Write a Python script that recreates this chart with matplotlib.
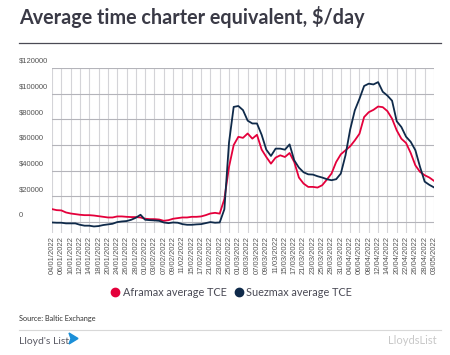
import matplotlib
matplotlib.use("Agg")
import matplotlib.pyplot as plt
from matplotlib.lines import Line2D
from matplotlib.patches import Polygon
from matplotlib import transforms

date_labels = ['04/01/2022', '06/01/2022', '10/01/2022', '12/01/2022', '14/01/2022',
               '18/01/2022', '20/01/2022', '24/01/2022', '26/01/2022', '28/01/2022',
               '01/02/2022', '03/02/2022', '07/02/2022', '09/02/2022', '11/02/2022',
               '15/02/2022', '17/02/2022', '21/02/2022', '23/02/2022', '25/02/2022',
               '01/03/2022', '03/03/2022', '07/03/2022', '09/03/2022', '11/03/2022',
               '15/03/2022', '17/03/2022', '21/03/2022', '23/03/2022', '25/03/2022',
               '29/03/2022', '31/03/2022', '04/04/2022', '06/04/2022', '08/04/2022',
               '12/04/2022', '14/04/2022', '20/04/2022', '22/04/2022', '26/04/2022',
               '28/04/2022', '03/05/2022']

# one value per trading day, labels on every second day
aframax = [10100, 9300, 9100, 7500, 6700, 6200, 5700, 5400, 5400, 5100,
           4600, 4100, 3600, 3600, 4400, 4400, 4100, 3900, 3900, 3600,
           2600, 2300, 2300, 2000, 1000, 1500, 2600, 3100, 3600, 3600,
           4100, 4100, 4400, 5400, 6700, 7200, 6600, 18000, 43000, 60000,
           66400, 65600, 69000, 65000, 68000, 56500, 50700, 45500, 50200, 52000,
           50700, 53800, 46800, 34700, 30000, 27400, 27400, 26900, 28700, 33100,
           37800, 46800, 52800, 55900, 59000, 63600, 68800, 81800, 85600, 87400,
           90000, 89500, 86400, 80500, 71400, 64900, 61600, 53800, 44200, 39100,
           36500, 34700, 32100]
suezmax = [-300, -500, -500, -1000, -1000, -1000, -2100, -2800, -2800, -3400,
           -3100, -2300, -1800, -1300, 0, 500, 800, 1800, 3400, 5700,
           1800, 1500, 1300, 1000, -300, -800, -300, -500, -1600, -2100,
           -2100, -1800, -1600, -800, 0, -500, -300, 10000, 62000, 89700,
           90400, 87200, 79000, 76800, 76800, 68000, 56400, 51500, 57200, 57200,
           56400, 60500, 48100, 42400, 38800, 37200, 37000, 35700, 34700, 33400,
           32600, 33400, 37800, 52000, 72000, 87000, 96000, 106000, 107800, 107200,
           109000, 101500, 98500, 94500, 78500, 74000, 66500, 62500, 56000, 43000,
           31500, 29000, 27000]
y_ticks = [0, 20000, 40000, 60000, 80000, 100000, 120000]
y_labels = ['0', '$20000', '$40000', '$60000', '$80000', '$100000', '$120000']

red = '#e4003b'
navy = '#0f2a4a'
txt = '#4a4a55'

fig = plt.figure(figsize=(4.5, 3.55), dpi=100)
W, H = 450, 355

fig.text(19 / W, 1 - 17 / H, 'Average time charter equivalent, $/day', fontsize=14.2,
         fontweight='bold', family='Lato', color='#3a3a46', va='center', ha='left')
fig.add_artist(Line2D([19 / W, 441 / W], [1 - 43 / H, 1 - 43 / H], color='#4a4a55', lw=0.9))

ax = fig.add_axes([52 / W, 1 - 233 / H, 382 / W, 165 / H])
x = list(range(len(aframax)))
ax.plot(x, aframax, color=red, lw=1.3, zorder=3)
ax.plot(x, suezmax, color=navy, lw=1.3, zorder=4)

ax.set_xlim(0, len(aframax) - 1)
ax.set_ylim(-8500, 120000)
ax.set_xticks(range(0, len(aframax), 2))
ax.set_xticklabels(date_labels, rotation=90, fontsize=5.5, family='Liberation Sans', color='#555555')
ax.tick_params(axis='x', length=0, pad=2)
ax.set_yticks([])
for s in ax.spines.values():
    s.set_visible(False)
for xt in range(0, len(aframax), 2):
    ax.axvline(xt, color='#d4d4d8', lw=0.8, zorder=1)
for yt in y_ticks:
    ax.axhline(yt, color='#b4b4ba', lw=0.8, zorder=2)

trans = transforms.blended_transform_factory(fig.transFigure, ax.transData)
for yt, lab in zip(y_ticks, y_labels):
    ax.text(19 / W, yt + 2500, lab, transform=trans, fontsize=5.5, family='Liberation Sans',
            color='#555555', va='bottom', ha='left', clip_on=False)

handles = [Line2D([], [], ls='none', marker='o', ms=6, color=red),
           Line2D([], [], ls='none', marker='o', ms=6, color=navy)]
fig.legend(handles, ['Aframax average TCE', 'Suezmax average TCE'], loc='center',
           bbox_to_anchor=(231 / W, 1 - 292 / H), ncol=2, frameon=False,
           labelcolor=txt, handletextpad=0.2, columnspacing=0.6, handlelength=1.0,
           prop={'family': 'Lato', 'size': 7.8})

fig.text(19 / W, 1 - 319 / H, 'Source: Baltic Exchange', fontsize=5.3, family='Lato',
         color='#333333', va='center', ha='left')
fig.add_artist(Line2D([19 / W, 441 / W], [1 - 330 / H, 1 - 330 / H], color='#d8d8d8', lw=0.8))
fig.text(19 / W, 1 - 341 / H, "Lloyd's List", fontsize=7.5, family='Lato',
         color='#5a5a64', va='center', ha='left')
logo = [(69, 333), (78, 338.5), (69, 344), (71, 338.5)]
fig.add_artist(Polygon([(px / W, 1 - py / H) for px, py in logo], closed=True,
                       color='#1b8fd8', transform=fig.transFigure))
fig.text(437 / W, 1 - 341 / H, 'LloydsList', fontsize=8, family='Lato',
         color='#c8c8c8', va='center', ha='right')

fig.savefig('out.png', dpi=100)
